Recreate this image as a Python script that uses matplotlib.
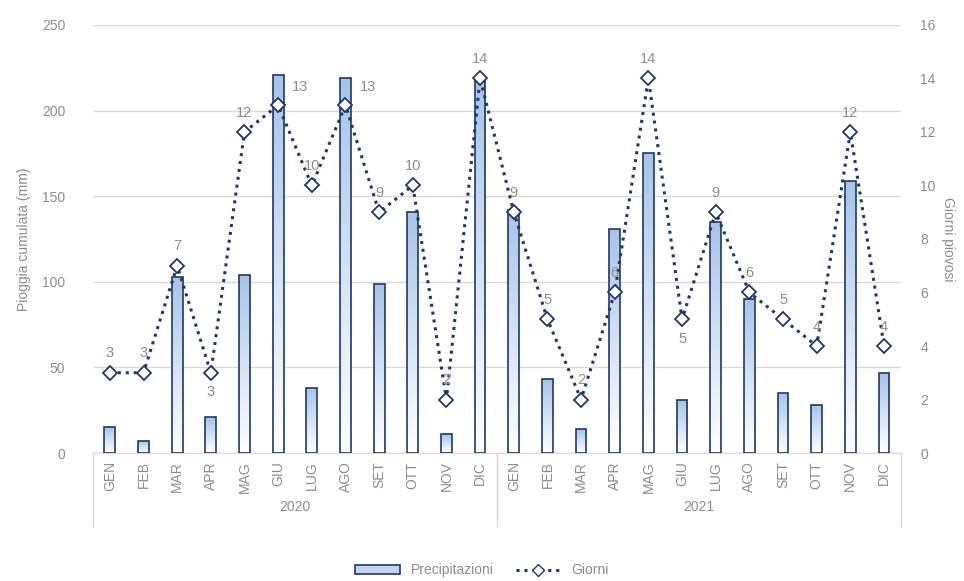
import matplotlib
matplotlib.use("Agg")
import matplotlib.pyplot as plt
import numpy as np
from matplotlib.lines import Line2D
from matplotlib.patches import Rectangle

plt.rcParams["font.family"] = ["Liberation Sans", "DejaVu Sans"]

months = ["GEN", "FEB", "MAR", "APR", "MAG", "GIU", "LUG", "AGO", "SET", "OTT", "NOV", "DIC"]
years = ["2020", "2021"]
rain_mm = [15, 7, 103, 21, 104, 221, 38, 219, 99, 141, 11, 217,
           142, 43, 14, 131, 175, 31, 135, 90, 35, 28, 159, 47]
rain_days = [3, 3, 7, 3, 12, 13, 10, 13, 9, 10, 2, 14,
             9, 5, 2, 6, 14, 5, 9, 6, 5, 4, 12, 4]
# where each data label sits: a = above, b = below, r = up-right
label_side = ["a", "a", "a", "b", "a", "r", "a", "r", "a", "a", "a", "a",
              "a", "a", "a", "a", "a", "b", "a", "a", "a", "a", "a", "a"]
offsets = {"a": (0, 14), "b": (0, -14), "r": (16, 13)}

navy = "#1f3864"
grey = "#8c8c8c"
grid = "#d9d9d9"

fig = plt.figure(figsize=(9.64, 5.81), dpi=100)
ax = fig.add_axes([0.0965, 0.2203, 0.838, 0.7367])
ax2 = ax.twinx()

x = np.arange(len(rain_mm))
bars = ax.bar(x, rain_mm, width=0.32, color="none", edgecolor=navy, linewidth=1.2, zorder=3)

# soft vertical gradient inside each bar
grad = np.linspace(0, 1, 64).reshape(-1, 1)
cmap = matplotlib.colors.LinearSegmentedColormap.from_list("g", ["#ffffff", "#a9c4e8"])
for b in bars:
    bx, by = b.get_x(), b.get_y()
    w, h = b.get_width(), b.get_height()
    im = ax.imshow(grad, extent=(bx, bx + w, by, by + h), origin="lower", cmap=cmap,
                   aspect="auto", zorder=2)
    im.set_clip_path(b)

ax.set_xlim(-0.5, len(x) - 0.5)
ax.set_ylim(0, 250)
ax.set_yticks(np.arange(0, 251, 50))
ax.yaxis.grid(True, color=grid, linewidth=1)
ax.set_axisbelow(True)
for s in ["top", "right", "left"]:
    ax.spines[s].set_visible(False)
    ax2.spines[s].set_visible(False)
ax2.spines["bottom"].set_visible(False)
ax.spines["bottom"].set_color(grid)
ax.tick_params(axis="y", length=0, colors=grey, labelsize=10, pad=20)
ax.set_ylabel("Pioggia cumulata (mm)", color=grey, fontsize=10, labelpad=8)

ax.set_xticks(x)
ax.set_xticklabels(months * 2, rotation=90, color=grey, fontsize=10)
ax.tick_params(axis="x", length=0, pad=6)

ax2.plot(x, rain_days, linestyle=(0, (1, 1.6)), color=navy, linewidth=2.2,
         marker="D", markersize=7, markerfacecolor="white", markeredgecolor=navy,
         markeredgewidth=1.3, zorder=4)
ax2.set_ylim(0, 16)
ax2.set_yticks(np.arange(0, 17, 2))
ax2.tick_params(axis="y", length=0, colors=grey, labelsize=10, pad=14)
ax2.set_ylabel("Giorni piovosi", color=grey, fontsize=10, rotation=-90, labelpad=14)

for xi, d, side in zip(x, rain_days, label_side):
    ax2.annotate(str(d), (xi, d), xytext=offsets[side], textcoords="offset points",
                 ha="center", va="center", color=grey, fontsize=10.5, zorder=5)

# two-level category axis: separators and year labels
trans = ax.get_xaxis_transform()
for sep in [-0.5, 11.5, 23.5]:
    ax.add_line(Line2D([sep, sep], [0, -0.17], transform=trans, color=grid,
                       linewidth=1, clip_on=False))
for i, yr in enumerate(years):
    ax.text(5.5 + 12 * i, -0.125, yr, transform=trans, ha="center", va="center",
            color=grey, fontsize=10)

handles = [Rectangle((0, 0), 1, 1, facecolor="#c3d5ee", edgecolor=navy, linewidth=1.2),
           Line2D([], [], linestyle=(0, (1, 1.6)), color=navy, linewidth=2.2, marker="D",
                  markersize=6, markerfacecolor="white", markeredgecolor=navy)]
fig.legend(handles, ["Precipitazioni", "Giorni"], loc="lower center", ncol=2,
           bbox_to_anchor=(0.5, -0.015), frameon=False, fontsize=10, labelcolor=grey,
           handlelength=3.2, handleheight=0.6, columnspacing=1.6)

fig.savefig("out.png", dpi=100)
